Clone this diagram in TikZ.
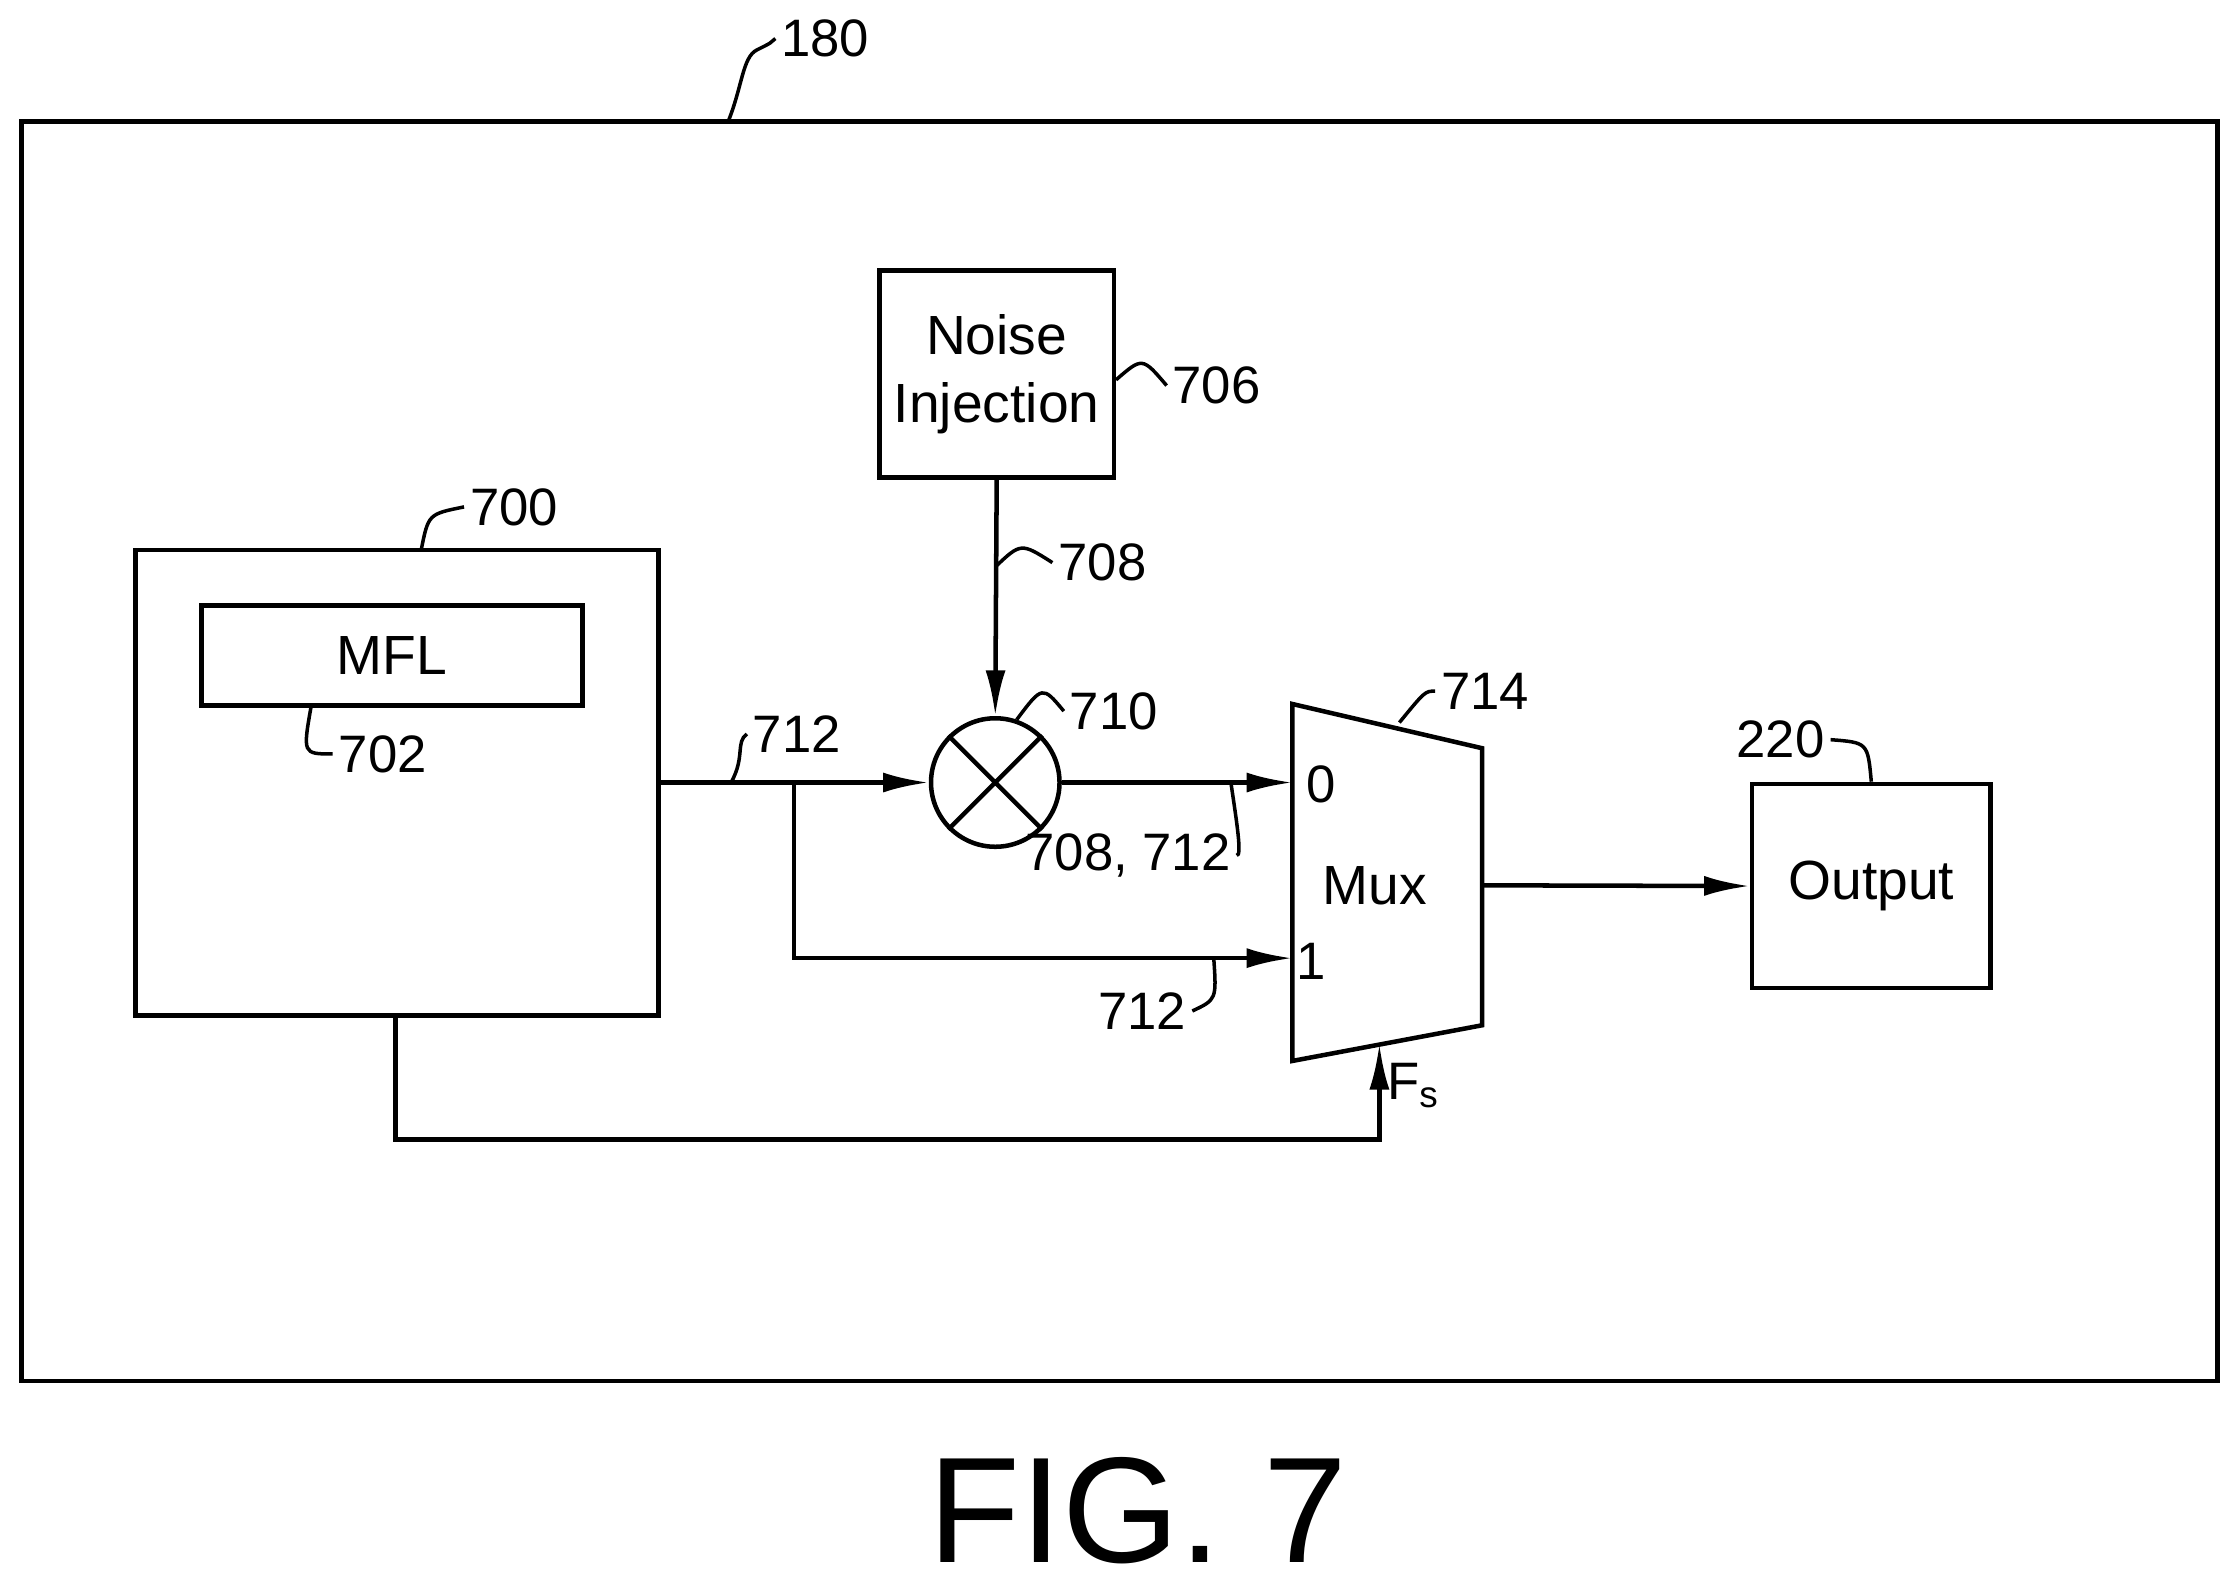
\documentclass[tikz,border=0pt]{standalone}
\usepackage{fontspec}
\setmainfont{Liberation Sans}
\usetikzlibrary{arrows.meta,calc}
\begin{document}
\begin{tikzpicture}[x=0.1mm,y=-0.1mm,
  box/.style={draw,line width=0.9pt,inner sep=0pt},
  lbl/.style={font=\fontsize{10.5}{12}\selectfont,inner sep=1pt},
  wire/.style={line width=0.9pt},
  arr/.style={wire,-{Latex[length=3.2mm,width=1.4mm]}},
  lead/.style={line width=0.7pt}]
\useasboundingbox (0,0) rectangle (1568,1113);
% outer
\node[box,minimum width=153.8mm,minimum height=88.2mm] (outer) at (784,526) {};
\node[lbl] (l180) at (578,27) {180};
\draw[lead] (510,85) .. controls (520,60) and (520,40) .. (530,35) .. controls (540,30) .. (l180.west);
% noise
\node[box,minimum width=16.4mm,minimum height=14.5mm,align=center,font=\fontsize{11}{13.5}\selectfont] (noise) at (698,262) {Noise\\Injection};
\node[lbl] (l706) at (852,270) {706};
\draw[lead] (noise.east|-0,266) .. controls (800,250) .. (l706.west);
% 700
\node[box,minimum width=36.6mm,minimum height=32.6mm] (b700) at (278,548) {};
\node[lbl] (l700) at (360,355) {700};
\draw[lead] (295,385) .. controls (300,360) .. (l700.west);
\node[box,minimum width=26.7mm,minimum height=7mm,font=\fontsize{11}{13}\selectfont] (mfl) at (274.5,459) {MFL};
\node[lbl] (l702) at (268,528) {702};
\draw[lead] (218,494) .. controls (212,528) .. (l702.west);
% multiplier
\node[draw,circle,line width=0.9pt,minimum size=9mm,inner sep=0pt] (mul) at (697,548) {};
\draw[wire] (mul.north west) -- (mul.south east) (mul.north east) -- (mul.south west);
\node[lbl] (l710) at (780,498) {710};
\draw[lead] (712,504) .. controls (730,480) .. (l710.west);
% mux
\coordinate (m1) at (905,493); \coordinate (m2) at (1038,524);
\coordinate (m3) at (1038,718); \coordinate (m4) at (905,743);
\draw[wire] (m1) -- (m2) -- (m3) -- (m4) -- cycle;
\node[font=\fontsize{11}{13}\selectfont] (mux) at (963,620) {Mux};
\node[lbl] (l714) at (1040,484) {714};
\draw[lead] (980,506) .. controls (998,484) .. (l714.west);
\node[lbl] (in0) at (925,549) {0};
\node[lbl] (in1) at (918,673) {1};
% output
\node[box,minimum width=16.7mm,minimum height=14.3mm,font=\fontsize{11}{13}\selectfont] (out) at (1310.5,620.5) {Output};
\node[lbl] (l220) at (1247,518) {220};
\draw[lead] (out.north) .. controls (1308,520) .. (l220.east);
% wires
\coordinate (split) at (556,548);
\coordinate (low) at (556,671);
\coordinate (mux0) at (905,548);
\coordinate (mux1) at (905,671);
\draw[arr] (noise.south) -- (mul.north);
\node[lbl] (l708) at (772,394) {708};
\draw[lead] (697,397) .. controls (715,380) .. (l708.west);
\draw[arr] (b700.east|-split) -- (mul.west);
\node[lbl] (l712a) at (558,514) {712};
\draw[lead] (512,548) .. controls (522,530) and (515,520) .. (l712a.west);
\draw[arr] (split) -- (low) -- (mux1);
\draw[arr] (mul.east) -- (mux0);
\node[lbl] (l708b) at (790,599) {708, 712};
\draw[lead] (862,548) .. controls (866,575) and (870,600) .. (l708b.east);
\node[lbl] (l712b) at (800,708) {712};
\draw[lead] (850,671) .. controls (852,700) .. (l712b.east);
\draw[arr] (m2|-mux) -- (out.west);
\coordinate (c1) at (277,798); \coordinate (c2) at (966,798);
\coordinate (fs) at (966,731);
\draw[arr] (b700.south-|c1) -- (c1) -- (c2) -- (fs);
\node[lbl] (lfs) at (990,760) {F\textsubscript{s}};
\node[font=\fontsize{30}{36}\selectfont] (fig) at (797,1058) {FIG. 7};
\end{tikzpicture}
\end{document}
